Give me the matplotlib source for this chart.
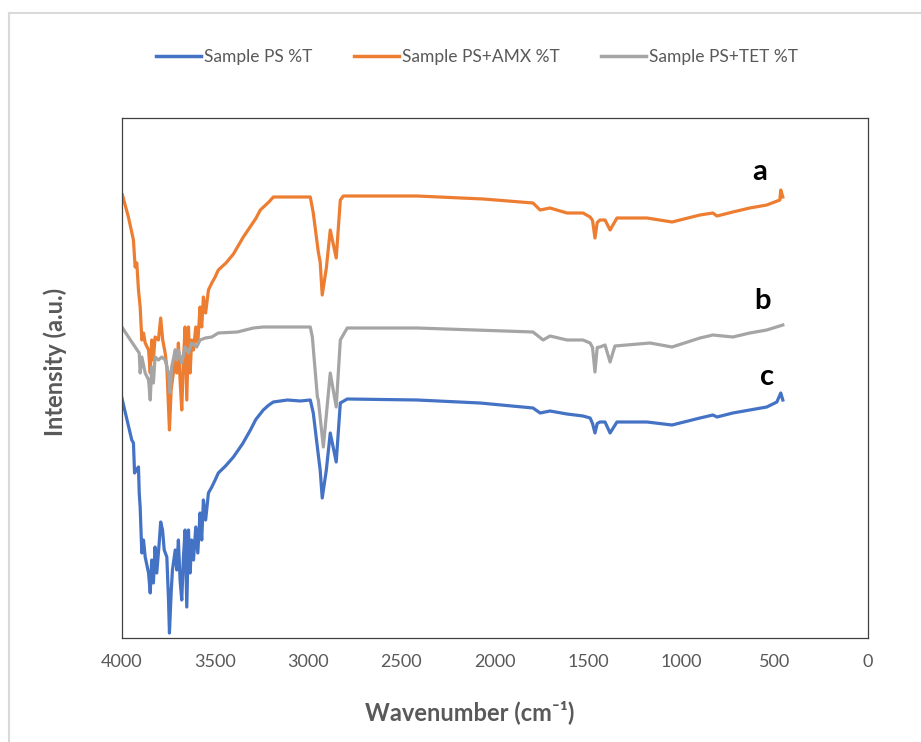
import matplotlib
matplotlib.use('Agg')
import matplotlib.pyplot as plt
from matplotlib.lines import Line2D

plt.rcParams['font.family'] = ['Lato', 'DejaVu Sans']

# --- spectra (wavenumber cm-1, arbitrary intensity) ---
wn_ps = [3998, 3945, 3936, 3930, 3920, 3909, 3905, 3900, 3895, 3891, 3882, 3873,
         3855, 3846, 3838, 3829, 3820, 3811, 3798, 3790, 3780, 3771, 3757, 3748,
         3743, 3734, 3727, 3712, 3704, 3695, 3686, 3677, 3668, 3659, 3650, 3641,
         3632, 3624, 3614, 3602, 3591, 3579, 3570, 3561, 3549, 3534, 3516, 3498,
         3481, 3440, 3400, 3350, 3309, 3280, 3240, 3210, 3186, 3111, 3041,
         2988, 2972, 2945, 2935, 2924, 2902, 2881, 2849, 2827, 2790, 2415, 2078,
         1794, 1756, 1703, 1612, 1526, 1488, 1475, 1462, 1450, 1435, 1408, 1381,
         1344, 1183, 1049, 899, 830, 808, 723, 632, 541, 487, 466, 455]
ps = [239.5, 197.5, 194.5, 164.5, 167.5, 170.5, 144.5, 130.5, 104.5, 84.5, 97.5, 80.5,
      64.5, 44.5, 77.5, 54.5, 90.5, 64.5, 94.5, 115.5, 107.5, 87.5, 80.5, 37.5,
      4.5, 44.5, 67.5, 87.5, 67.5, 97.5, 57.5, 37.5, 80.5, 107.5, 30.5, 107.5,
      64.5, 97.5, 77.5, 110.5, 84.5, 124.5, 97.5, 137.5, 117.5, 144.5, 150.5, 157.5,
      164.5, 172.0, 180.5, 194.0, 207.5, 218.0, 227.5, 232.5, 235.5, 237.5, 236.5,
      237.5, 224.5, 182.5, 167.5, 139.5, 167.5, 204.5, 175.5, 234.5, 238.5, 237.5, 234.5,
      229.5, 224.5, 226.5, 223.5, 221.5, 219.5, 214.0, 204.5, 214.0, 215.5, 215.5, 204.5,
      215.5, 215.5, 212.5, 219.5, 222.5, 220.5, 224.5, 227.5, 230.5, 235.5, 244.5, 237.5]

wn_amx = [3995, 3963, 3936, 3927, 3918, 3909, 3900, 3891, 3882, 3873, 3855, 3846,
          3838, 3829, 3820, 3802, 3790, 3779, 3766, 3757, 3748, 3743, 3734, 3722,
          3712, 3704, 3695, 3686, 3677, 3668, 3659, 3650, 3641, 3632, 3624, 3614,
          3602, 3591, 3579, 3570, 3561, 3549, 3534, 3516, 3498, 3481, 3440, 3400,
          3347, 3280, 3256, 3210, 3186, 3132, 3041, 2988, 2972, 2945, 2935, 2924,
          2902, 2881, 2849, 2827, 2811, 2415, 2061, 1794, 1756, 1703, 1612, 1526,
          1488, 1475, 1462, 1450, 1435, 1408, 1381, 1344, 1183, 1049, 899, 830,
          808, 723, 632, 541, 471, 466, 455]
amx = [442.5, 420.5, 397.5, 370.5, 374.5, 347.5, 330.5, 297.5, 304.5, 294.5, 287.5, 264.5,
       297.5, 277.5, 300.5, 297.5, 319.5, 297.5, 284.5, 270.5, 230.5, 207.5, 247.5, 264.5,
       287.5, 264.5, 294.5, 257.5, 227.5, 277.5, 310.5, 237.5, 310.5, 264.5, 297.5, 287.5,
       310.5, 294.5, 330.5, 310.5, 340.5, 324.5, 347.5, 354.5, 360.5, 367.5, 374.5, 383.5,
       400.5, 419.0, 427.5, 435.5, 440.5, 440.5, 440.5, 440.5, 424.5, 385.5, 375.5, 342.5,
       369.5, 407.5, 379.5, 437.5, 441.5, 441.5, 438.5, 434.5, 427.5, 429.5, 424.5, 424.5,
       420.5, 417.0, 399.5, 415.0, 417.5, 417.5, 407.5, 419.5, 419.5, 415.5, 422.5, 424.5,
       421.5, 425.5, 429.5, 432.5, 437.5, 447.5, 440.5]

wn_tet = [3998, 3963, 3927, 3905, 3900, 3891, 3873, 3855, 3846, 3838, 3829, 3820,
          3802, 3784, 3766, 3748, 3739, 3731, 3712, 3704, 3695, 3677, 3659, 3641,
          3624, 3597, 3579, 3550, 3516, 3481, 3379, 3293, 3240, 2988, 2977, 2950,
          2945, 2918, 2881, 2849, 2827, 2790, 2415, 1794, 1740, 1703, 1612, 1526,
          1488, 1475, 1462, 1450, 1435, 1408, 1381, 1355, 1167, 1049, 899, 830,
          723, 632, 541, 455]
tet = [310.5, 300.5, 290.5, 284.5, 264.5, 280.5, 264.5, 257.5, 237.5, 270.5, 254.5, 280.5,
       277.5, 280.5, 277.5, 264.5, 244.5, 270.5, 287.5, 277.5, 287.5, 274.5, 290.5, 284.5,
       294.5, 290.5, 297.5, 299.5, 300.5, 304.5, 305.5, 309.5, 310.5, 310.5, 300.5, 240.5,
       237.5, 190.5, 264.5, 230.5, 297.5, 309.5, 309.5, 305.5, 297.5, 301.5, 297.5, 297.5,
       294.5, 290.0, 265.5, 290.0, 290.5, 292.5, 275.5, 291.5, 294.5, 290.5, 299.5, 302.5,
       300.5, 304.5, 307.5, 312.5]

series = [
    ('Sample PS %T', wn_ps, ps, '#4472C4'),
    ('Sample PS+AMX %T', wn_amx, amx, '#ED7D31'),
    ('Sample PS+TET %T', wn_tet, tet, '#A5A5A5'),
]
curve_labels = [('a', 578, 465.5), ('b', 562, 336.5), ('c', 541, 260.5)]

TEXT_GREY = '#595959'

fig = plt.figure(figsize=(9.21, 7.42), dpi=100)
ax = fig.add_axes([121.5 / 921, 104.5 / 742, 746.2 / 921, 520 / 742])

for name, x, y, c in series:
    ax.plot(x, y, color=c, lw=2.3, label=name, solid_joinstyle='round')

for txt, x, y in curve_labels:
    ax.text(x, y, txt, ha='center', va='center', fontsize=21,
            fontweight='bold', color='black')

ax.set_xlim(4000, 0)
ax.set_ylim(0, 520)
ax.set_xticks(range(0, 4001, 500))
ax.set_yticks([])
ax.tick_params(axis='x', length=0, pad=12, labelsize=13, labelcolor=TEXT_GREY)
for s in ax.spines.values():
    s.set_color('#404040')
    s.set_linewidth(0.9)

ax.set_xlabel('Wavenumber (cm\u207b\u00b9)', fontsize=17, fontweight='bold',
              color=TEXT_GREY)
ax.xaxis.set_label_coords(0.467, -(712 - 637.5) / 520)
ax.xaxis.label.set_va('center')
ax.set_ylabel('Intensity (a.u.)', fontsize=17, fontweight='bold', color=TEXT_GREY)
ax.yaxis.set_label_coords(-(121.5 - 55) / 746.2, 0.53)
ax.yaxis.label.set_va('center')

handles = [Line2D([], [], color=c, lw=2.5) for _, _, _, c in series]
leg = fig.legend(handles, [s[0] for s in series], loc='center',
                 bbox_to_anchor=(477 / 921, 1 - 57 / 742), ncol=3, frameon=False,
                 fontsize=12.5, handlelength=2.6, handletextpad=0.15,
                 columnspacing=2.4)
for t in leg.get_texts():
    t.set_color(TEXT_GREY)

# chart-area border (only top and left edges visible in the crop)
fig.add_artist(Line2D([8.5 / 921, 8.5 / 921], [0, 1 - 13 / 742],
                      transform=fig.transFigure, color='#d9d9d9', lw=1.5))
fig.add_artist(Line2D([8.5 / 921, 1], [1 - 13 / 742, 1 - 13 / 742],
                      transform=fig.transFigure, color='#d9d9d9', lw=1.5))

fig.savefig('out.png', dpi=100, facecolor='white')
